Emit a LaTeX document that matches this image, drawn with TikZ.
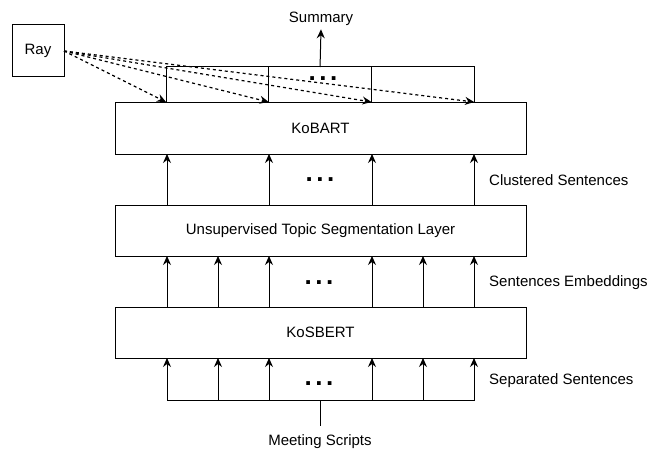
\documentclass[tikz,border=0pt]{standalone}
\usepackage{fontspec}
\setmainfont{Liberation Sans}
\usetikzlibrary{arrows.meta, positioning}

\tikzset{
  layer/.style={draw, line width=1pt, minimum width=411pt, minimum height=51pt, outer sep=0pt},
  cell/.style={draw, line width=1pt, minimum width=102.7pt, minimum height=35pt, outer sep=0pt},
  flow/.style={-{Stealth[length=9pt, width=8pt, inset=3pt]}, line width=1pt},
  hint/.style={flow, line width=1.2pt, dash pattern=on 3pt off 3pt},
  sidetext/.style={anchor=west, inner sep=2pt},
  dots/.style={inner sep=0pt, font=\fontsize{26}{26}\selectfont\bfseries}
}

\begin{document}
\begin{tikzpicture}[x=1pt, y=-1pt, font=\fontsize{15}{18}\selectfont]
    \useasboundingbox (0,0) rectangle (667,452);

    % Ray
    \node[draw, line width=1pt, minimum size=52pt, outer sep=0pt] (ray) at (38,51) {Ray};

    % Output cells
    \node[cell] (cellA) at (217.35,84.5) {};
    \node[cell, right=0pt of cellA] (cellB) {};
    \node[cell, right=0pt of cellB] (cellC) {};
    \node[dots] (dotsTop) at (323,79) {.\kern3.6pt.\kern3.6pt.};

    % Summary
    \node (summary) at (321,19) {Summary};
    \draw[flow] (cellB.north) -- (summary.south);

    % Layers
    \node[layer, minimum height=52pt] (kobart) at (320.5,128) {KoBART};
    \node[layer] (utsl) at (320.5,230.5) {Unsupervised Topic Segmentation Layer};
    \node[layer] (kosbert) at (320.5,332.5) {KoSBERT};

    % Ray to the cells
    \draw[hint] (ray.east) -- (cellA.south west);
    \draw[hint] (ray.east) -- (cellB.south west);
    \draw[hint] (ray.east) -- (cellB.south east);
    \draw[hint] (ray.east) -- (cellC.south east);

    % Clustered sentences
    \foreach \x in {167,269,372,474}
        \draw[flow] (utsl.north -| \x,0) -- (kobart.south -| \x,0);
    \node[dots] (dotsUp) at (320,180) {.\kern3.6pt.\kern3.6pt.};
    \node[sidetext] (clustered) at (487,180) {Clustered Sentences};

    % Sentence embeddings
    \foreach \x in {167,218,269,372,423,474}
        \draw[flow] (kosbert.north -| \x,0) -- (utsl.south -| \x,0);
    \node[dots] (dotsMid) at (319,283) {.\kern3.6pt.\kern3.6pt.};
    \node[sidetext] (embeddings) at (487,283) {Sentences Embeddings};

    % Separated sentences
    \coordinate (bus) at (320,400);
    \draw[line width=1pt] (bus -| 167,0) -- (bus -| 475,0);
    \foreach \x in {167,218,269,372,423,474}
        \draw[flow] (bus -| \x,0) -- (kosbert.south -| \x,0);
    \node[dots] (dotsLow) at (319,384) {.\kern3.6pt.\kern3.6pt.};
    \node[sidetext] (separated) at (487,381) {Separated Sentences};

    % Meeting scripts
    \node (scripts) at (320,442) {Meeting Scripts};
    \draw[line width=1pt, shorten >=5pt] (bus) -- (scripts.north);
\end{tikzpicture}
\end{document}
